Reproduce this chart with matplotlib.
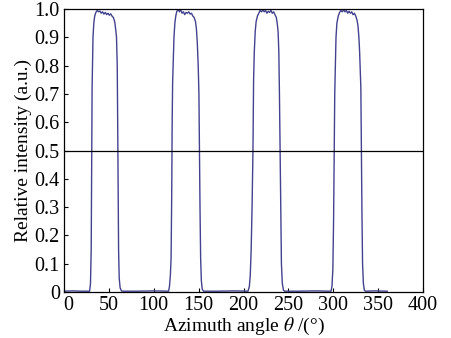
import numpy as np
import matplotlib
matplotlib.use('Agg')
import matplotlib.pyplot as plt
import matplotlib.transforms as mtransforms

# hand-read profile of each lobe (azimuth angle in degrees, relative intensity)
peak1_theta = [0, 10, 20, 28.5, 29.5, 30.3, 30.8, 31.3, 31.7, 32.3, 33.2, 34.2, 35.5, 37, 38.5, 40,
               41.5, 43, 44.5, 46, 47.5, 49, 50.5, 52, 53.5, 55, 56.5, 57.5, 58.5, 59.3, 59.8,
               60.3, 60.8, 61.5, 62.5, 64, 65.5]
peak1_I = [0.003, 0.004, 0.003, 0.003, 0.03, 0.15, 0.45, 0.72, 0.80, 0.90, 0.95, 0.975, 0.988, 0.995,
           0.99, 0.993, 0.985, 0.99, 0.982, 0.988, 0.98, 0.985, 0.978, 0.983, 0.975, 0.97, 0.955,
           0.93, 0.9, 0.8, 0.6, 0.35, 0.15, 0.05, 0.015, 0.004, 0.003]

peak2_theta = [80, 100, 116.5, 117.5, 118.5, 119.3, 120, 120.5, 121, 121.6, 122.5, 123.5, 124.5, 125.5,
               127, 128.5, 130, 131.5, 133, 134.5, 136, 137.5, 139, 140.5, 142, 143.5, 145, 146.5,
               147.5, 148.5, 149.5, 150.3, 150.9, 151.5, 152.2, 153, 154, 155.5]
peak2_I = [0.003, 0.004, 0.003, 0.02, 0.06, 0.12, 0.35, 0.6, 0.74, 0.8, 0.9, 0.95, 0.975, 0.99,
           1.0, 0.99, 0.997, 0.985, 0.99, 0.98, 0.988, 0.985, 0.99, 0.982, 0.985, 0.975, 0.97, 0.955,
           0.93, 0.88, 0.8, 0.7, 0.5, 0.3, 0.12, 0.04, 0.01, 0.003]

peak3_theta = [170, 190, 205, 206.5, 207.5, 208.5, 209.5, 210.5, 211.2, 212, 213, 214, 215.5, 217,
               218.5, 220, 221.5, 223, 224.5, 226, 227.5, 229, 230.5, 232, 233.5, 235, 236.5,
               237.5, 238.5, 239.3, 240, 240.7, 241.4, 242.2, 243.2, 244.5, 246]
peak3_I = [0.003, 0.004, 0.003, 0.02, 0.06, 0.15, 0.3, 0.5, 0.75, 0.85, 0.92, 0.955, 0.975, 0.985,
           0.995, 0.99, 0.997, 0.99, 0.995, 0.985, 0.992, 0.988, 0.995, 0.985, 0.99, 0.98, 0.97,
           0.95, 0.92, 0.85, 0.7, 0.5, 0.3, 0.1, 0.03, 0.006, 0.003]

peak4_theta = [260, 280, 297.5, 298.5, 299.5, 300.3, 301, 301.6, 302.3, 303, 304, 305.5, 307, 308.5,
               310, 311.5, 313, 314.5, 316, 317.5, 319, 320.5, 322, 323.5, 325, 326.5, 327.5, 328.5,
               329.3, 330, 330.7, 331.3, 331.9, 332.6, 333.5, 334.6, 336, 345, 360]
peak4_I = [0.003, 0.004, 0.003, 0.02, 0.08, 0.25, 0.5, 0.7, 0.8, 0.9, 0.95, 0.975, 0.988, 0.995,
           0.99, 0.997, 0.99, 0.995, 0.985, 0.992, 0.985, 0.99, 0.98, 0.985, 0.975, 0.96, 0.94,
           0.9, 0.85, 0.78, 0.72, 0.5, 0.28, 0.1, 0.03, 0.006, 0.003, 0.004, 0.003]

half_level = 0.5

theta = np.concatenate([peak1_theta, peak2_theta, peak3_theta, peak4_theta])
intensity = np.concatenate([peak1_I, peak2_I, peak3_I, peak4_I])

plt.rcParams['font.family'] = 'Liberation Serif'
plt.rcParams['mathtext.fontset'] = 'stix'

fig = plt.figure(figsize=(4.52, 3.38), dpi=100)
ax = fig.add_axes([0.1416, 0.136, 0.7944, 0.8374])

ax.plot(theta, intensity, color='#42428f', lw=1.0)
ax.axhline(half_level, color='black', lw=0.9)

ax.set_xlim(0, 400)
ax.set_ylim(0, 1.0)
ax.set_xticks(range(0, 401, 50))
ax.set_yticks(np.arange(0, 1.01, 0.1))
ax.set_yticklabels(['0'] + ['%.1f' % v for v in np.arange(0.1, 1.01, 0.1)])
ax.tick_params(direction='in', length=3, labelsize=14.5, top=False, right=False)
ax.tick_params(axis='x', pad=2.5)
ax.tick_params(axis='y', pad=3)

# nudge the "0" at the x origin a little right so it clears the y "0"
first = ax.get_xticklabels()[0]
first.set_transform(first.get_transform() +
                    mtransforms.ScaledTranslation(3 / 72, 0, fig.dpi_scale_trans))

for s in ax.spines.values():
    s.set_linewidth(0.9)

ax.set_xlabel(r'Azimuth angle $\theta$ /(°)', size=14, labelpad=1)
ax.set_ylabel('Relative intensity (a.u.)', size=14, labelpad=2)

fig.savefig('out.png', dpi=100)
